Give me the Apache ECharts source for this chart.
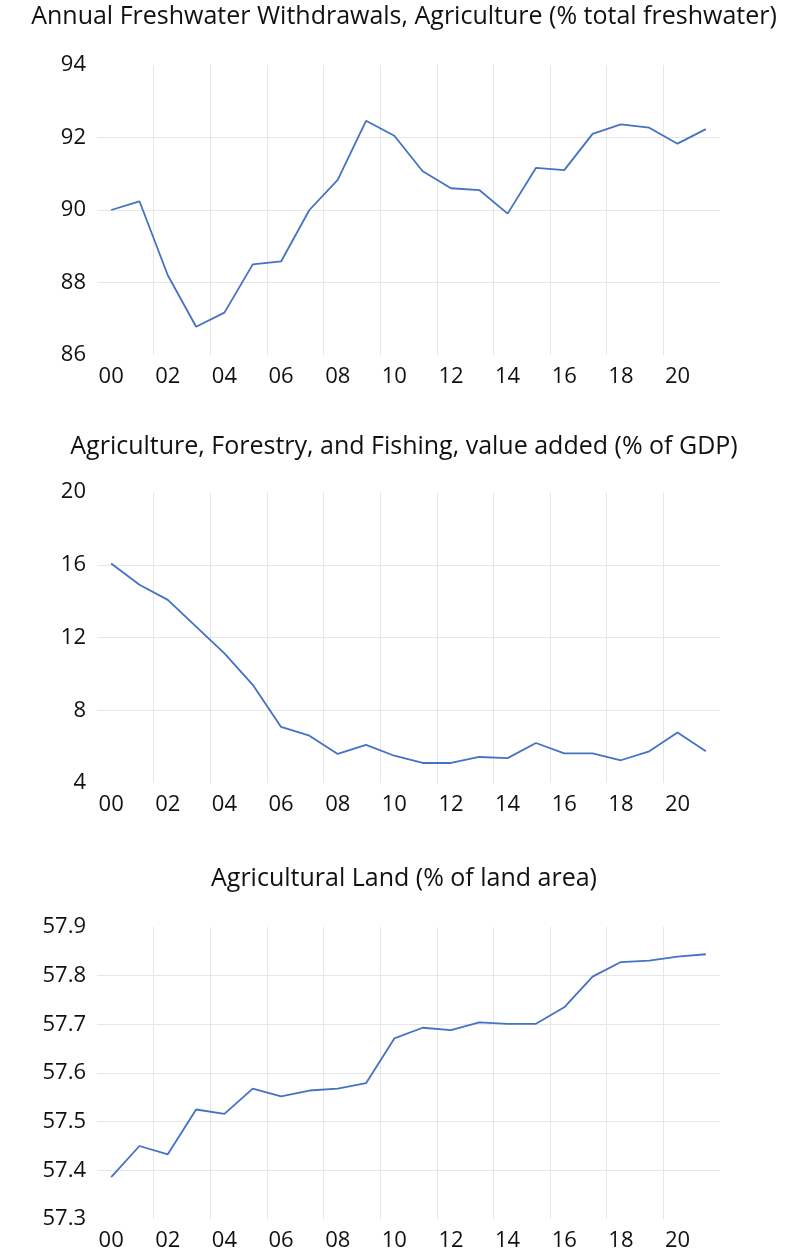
<!DOCTYPE html>
<html>
<head>
    <meta http-equiv="Content-Type" content="text/html; charset=utf-8" />
    <title>Agriculture indicators</title>
    <style>
        html, body { margin: 0; padding: 0; background: #fff; }
        #main { width: 808px; height: 1252px; }
    </style>
</head>
<body>
    <div id="main"></div>
    <script src="https://cdn.jsdelivr.net/npm/echarts@6/dist/echarts.min.js"></script>
    <script type="text/javascript">
        var years = ['00','01','02','03','04','05','06','07','08','09','10',
                     '11','12','13','14','15','16','17','18','19','20','21'];

        var titles = [
            'Annual Freshwater Withdrawals, Agriculture (% total freshwater)',
            'Agriculture, Forestry, and Fishing, value added (% of GDP)',
            'Agricultural Land (% of land area)'
        ];

        var freshwater = [90.0, 90.24, 88.2, 86.78, 87.17, 88.5, 88.58, 90.0, 90.83, 92.46, 92.05,
                          91.07, 90.6, 90.55, 89.9, 91.16, 91.1, 92.1, 92.36, 92.27, 91.83, 92.23];

        var valueAdded = [16.07, 14.9, 14.07, 12.6, 11.13, 9.4, 7.08, 6.6, 5.6, 6.1, 5.5,
                          5.1, 5.1, 5.43, 5.37, 6.2, 5.63, 5.63, 5.25, 5.74, 6.77, 5.74];

        var agriLand = [57.386, 57.45, 57.433, 57.525, 57.516, 57.568, 57.552, 57.564, 57.568, 57.579, 57.671,
                        57.693, 57.688, 57.704, 57.701, 57.701, 57.735, 57.798, 57.828, 57.831, 57.839, 57.844];

        // y axis ranges: [min, max, interval]
        var yRanges = [[86, 94, 2], [4, 20, 4], [57.3, 57.9, 0.1]];

        var grids = [
            {top: 65, height: 290},
            {top: 492, height: 291},
            {top: 927, height: 293}
        ];
        var titleTops = [-1, 429, 861];
        var seriesData = [freshwater, valueAdded, agriLand];

        var font = 'Open Sans';
        var lineColor = '#4472C4';
        var gridColor = '#e6e6e6';

        var option = {
            animation: false,
            backgroundColor: '#fff',
            title: titles.map(function (t, i) {
                return {
                    text: t,
                    left: 'center',
                    top: titleTops[i],
                    textStyle: {fontFamily: font, fontSize: 25, fontWeight: 'normal', color: '#111'}
                };
            }),
            grid: grids.map(function (g) {
                return {left: 97, right: 88, top: g.top, height: g.height};
            }),
            xAxis: grids.map(function (g, i) {
                return {
                    type: 'category',
                    gridIndex: i,
                    data: years,
                    boundaryGap: true,
                    axisLine: {show: false},
                    axisTick: {show: false},
                    axisLabel: {interval: 1, fontFamily: font, fontSize: 22, color: '#111', margin: 11},
                    splitLine: {
                        show: true, interval: 1,
                        showMinLine: false, showMaxLine: false,
                        lineStyle: {color: gridColor, width: 1}
                    }
                };
            }),
            yAxis: yRanges.map(function (r, i) {
                return {
                    type: 'value',
                    gridIndex: i,
                    min: r[0],
                    max: r[1],
                    interval: r[2],
                    axisLine: {show: false},
                    axisTick: {show: false},
                    axisLabel: {
                        fontFamily: font, fontSize: 22, color: '#111', margin: 11,
                        formatter: function (v) { return i === 2 ? v.toFixed(1) : String(v); }
                    },
                    splitLine: {
                        show: true,
                        showMinLine: false, showMaxLine: false,
                        lineStyle: {color: gridColor, width: 1}
                    }
                };
            }),
            series: seriesData.map(function (d, i) {
                return {
                    type: 'line',
                    xAxisIndex: i,
                    yAxisIndex: i,
                    data: d,
                    symbol: 'none',
                    lineStyle: {color: lineColor, width: 1.8}
                };
            })
        };

        var myChart = echarts.init(document.getElementById('main'));
        myChart.setOption(option);
    </script>
</body>
</html>
